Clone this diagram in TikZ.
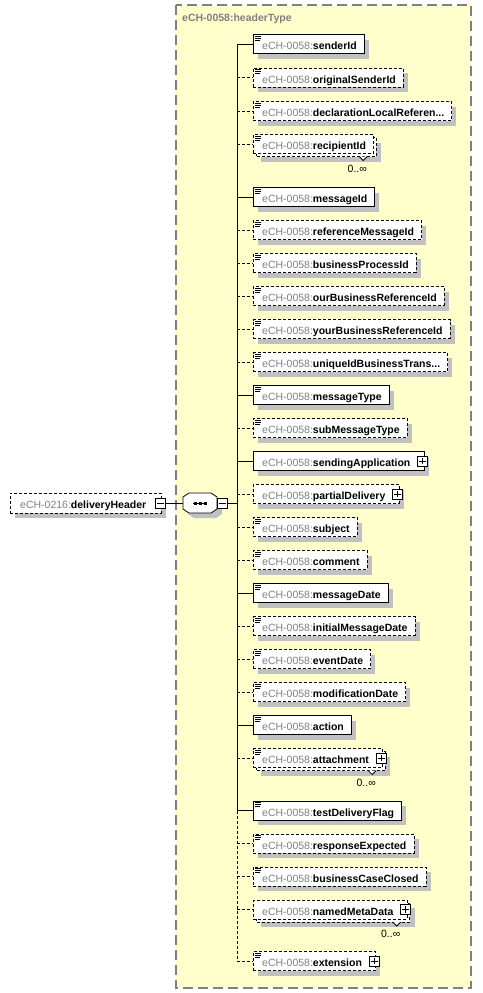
\documentclass[tikz,border=0pt]{standalone}
\usepackage{fontspec}
\setmainfont{Liberation Sans}
\definecolor{yel}{HTML}{FFFFCC}
\definecolor{pgray}{HTML}{808080}
\definecolor{shd}{HTML}{C0C0C0}
\pgfdeclarelayer{bg}
\pgfdeclarelayer{boxes}
\pgfsetlayers{bg,boxes,main}
\tikzset{
  req/.style={solid},
  opt/.style={dash pattern=on 3pt off 2pt},
  elbox/.style={draw=black, fill=white, line width=0.8pt, minimum height=19pt, inner sep=0pt},
  pmbox/.style={draw=black, fill=white, line width=0.8pt, minimum size=10pt, inner sep=0pt},
  lbl/.style={anchor=base west, inner sep=0pt, font=\fontsize{10.5}{12}\selectfont},
  occ/.style={anchor=base, inner sep=0pt, font=\fontsize{10.5}{12}\selectfont},
  conn/.style={line width=0.8pt},
}
\newcommand\xpre{\color{pgray}eCH-0058:\color{black}\bfseries}
\newlength\xlen
% #1 id #2 y #3 req/opt #4 icon #5 plus #6 multi #7 name
\newcommand\xelem[7]{%
  \node[lbl] (t#1) at (262,#2+5.5) {\xpre #7};
  \pgfextractx{\xlen}{\pgfpointanchor{t#1}{east}}%
  \ifnum#5=1 \pgfmathsetmacro\xr{\xlen+13}\else\pgfmathsetmacro\xr{\xlen+7}\fi
  \coordinate (s#1) at (237,#2);
  \begin{pgfonlayer}{boxes}
  \ifnum#6=1
    \fill[shd] (261,#2-1.5) rectangle (\xr+8,#2+17.5);
    \draw[elbox,#3] (256,#2-6.5) rectangle (\xr+3,#2+12.5);
    \filldraw[fill=white,draw=black,line width=0.8pt] (\xr-14,#2+12.5) -- (\xr-10,#2+16.5) -- (\xr-6,#2+12.5);
  \else
    \fill[shd] (258,#2-4.5) rectangle (\xr+5,#2+14.5);
  \fi
  \node[elbox,#3,minimum width=\xr-253,anchor=west] (#1) at (253,#2) {};
  \end{pgfonlayer}
  \ifnum#6=1
    \node[occ] (o#1) at (\xr-16,#2+28) {0..∞};
  \fi
  \draw[conn,#3] (s#1) -- (#1.west);
  \ifnum#4=1
    \draw[line width=0.7pt] (255,#2-8)--(261,#2-8) (255,#2-6)--(261,#2-6) (255,#2-4)--(260,#2-4);
  \fi
  \ifnum#5=1
    \node[pmbox] (p#1) at (\xr-1,#2) {};
    \draw[line width=0.8pt] ([xshift=2pt]p#1.west) -- ([xshift=-2pt]p#1.east)
      ([yshift=-2pt]p#1.north) -- ([yshift=2pt]p#1.south);
  \fi
}
\begin{document}
\begin{tikzpicture}[x=1pt,y=-1pt]
\useasboundingbox (0,0) rectangle (482,993);
% type container
\begin{pgfonlayer}{bg}
\draw[draw=pgray, fill=yel, line width=1.2pt, dash pattern=on 10pt off 5pt] (176,5) rectangle (471,988);
\end{pgfonlayer}
\node[anchor=base west, inner sep=0pt, text=pgray, font=\fontsize{10.5}{12}\selectfont\bfseries] (title) at (182,21.5) {eCH-0058:headerType};
% spine
\coordinate (sp1) at (237,44);
\coordinate (sp2) at (237,810.5);
\coordinate (sp3) at (237,961);
\coordinate (sj) at (237,503);
\draw[conn] (sp1) -- (sp2);
\draw[conn,opt] (sp2) -- (sp3);
% root element
\fill[shd] (15,498) rectangle (166,518);
\node[elbox,opt,minimum width=151pt,minimum height=20pt,anchor=west] (dh) at (10,503) {};
\node[lbl] (tdh) at (20,508.5) {\color{pgray}eCH-0216:\color{black}\bfseries deliveryHeader};
\node[pmbox] (dhm) at (160.5,503) {};
\draw[line width=0.8pt] ([xshift=2pt]dhm.west) -- ([xshift=-2pt]dhm.east);
% sequence compositor
\fill[shd] (188,502) -- (194,498) -- (216,498) -- (222,502) -- (222,514) -- (216,518) -- (194,518) -- (188,514) -- cycle;
\draw[fill=white,line width=0.8pt] (183,497) -- (189,493) -- (211,493) -- (217,497) -- (217,509) -- (211,513) -- (189,513) -- (183,509) -- cycle;
\coordinate (sqL) at (183,503);
\coordinate (sqR) at (217,503);
\draw[line width=0.8pt] (193,503) -- (207,503);
\fill (193.5,501.5) rectangle (196.5,504.5);
\fill (198.5,501.5) rectangle (201.5,504.5);
\fill (203.5,501.5) rectangle (206.5,504.5);
\node[pmbox,anchor=west] (sqm) at (sqR) {};
\draw[line width=0.8pt] ([xshift=2pt]sqm.west) -- ([xshift=-2pt]sqm.east);
\draw[conn] (dhm.east) -- (sqL);
\draw[conn] (sqm.east) -- (sj);
% elements
\xelem{e1}{44}{req}{1}{0}{0}{senderId}
\xelem{e2}{77.5}{opt}{1}{0}{0}{originalSenderId}
\xelem{e3}{111}{opt}{1}{0}{0}{declarationLocalReferen...}
\xelem{e4}{144}{opt}{1}{0}{1}{recipientId}
\xelem{e5}{197}{req}{1}{0}{0}{messageId}
\xelem{e6}{230}{opt}{1}{0}{0}{referenceMessageId}
\xelem{e7}{263}{opt}{1}{0}{0}{businessProcessId}
\xelem{e8}{296}{opt}{1}{0}{0}{ourBusinessReferenceId}
\xelem{e9}{329}{opt}{1}{0}{0}{yourBusinessReferenceId}
\xelem{e10}{362}{opt}{1}{0}{0}{uniqueIdBusinessTrans...}
\xelem{e11}{395}{req}{1}{0}{0}{messageType}
\xelem{e12}{428}{opt}{1}{0}{0}{subMessageType}
\xelem{e13}{461}{req}{0}{1}{0}{sendingApplication}
\xelem{e14}{494}{opt}{0}{1}{0}{partialDelivery}
\xelem{e15}{527}{opt}{1}{0}{0}{subject}
\xelem{e16}{560}{opt}{1}{0}{0}{comment}
\xelem{e17}{593}{req}{1}{0}{0}{messageDate}
\xelem{e18}{626}{opt}{1}{0}{0}{initialMessageDate}
\xelem{e19}{659}{opt}{1}{0}{0}{eventDate}
\xelem{e20}{692}{opt}{1}{0}{0}{modificationDate}
\xelem{e21}{725}{req}{1}{0}{0}{action}
\xelem{e22}{758}{opt}{1}{1}{1}{attachment}
\xelem{e23}{810.5}{req}{1}{0}{0}{testDeliveryFlag}
\xelem{e24}{843.5}{opt}{1}{0}{0}{responseExpected}
\xelem{e25}{876.5}{opt}{1}{0}{0}{businessCaseClosed}
\xelem{e26}{909.5}{opt}{0}{1}{1}{namedMetaData}
\xelem{e27}{961}{opt}{1}{1}{0}{extension}
\end{tikzpicture}
\end{document}
